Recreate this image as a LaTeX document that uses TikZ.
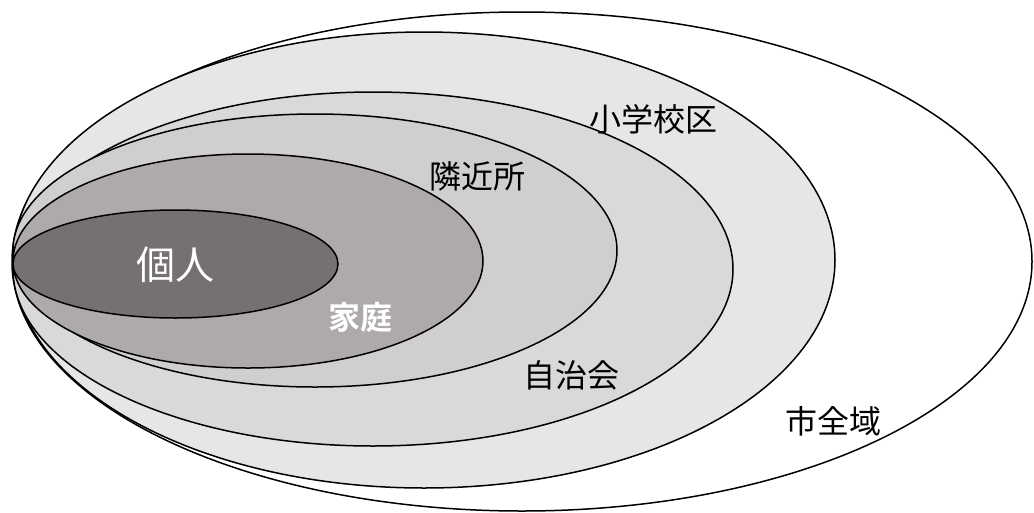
\documentclass[tikz,border=0pt]{standalone}
\usepackage{fontspec}
\newfontfamily\jpfont{Noto Sans CJK JP}
\newfontfamily\jpbold{Noto Sans CJK JP Bold}
\definecolor{ringB}{HTML}{E6E6E6}
\definecolor{ringC}{HTML}{D9D9D9}
\definecolor{ringD}{HTML}{D0CECE}
\definecolor{ringE}{HTML}{AEAAAA}
\definecolor{ringF}{HTML}{767171}
\tikzset{
  ring/.style={draw=black, line width=1.5pt},
  lab/.style={font=\jpfont\fontsize{32}{36}\selectfont, text=black, inner sep=0pt},
  wlab/.style={text=white, inner sep=0pt}
}
\begin{document}
\begin{tikzpicture}[x=1pt,y=-1pt]
\useasboundingbox (0,0) rectangle (1034,512);
\draw[ring, fill=white] (522,261.5) ellipse [x radius=510pt, y radius=249.5pt];
\draw[ring, fill=ringB] (424,260) ellipse [x radius=411pt, y radius=228pt];
\draw[ring, fill=ringC] (373,269) ellipse [x radius=360pt, y radius=177pt];
\draw[ring, fill=ringD] (315,250.5) ellipse [x radius=302pt, y radius=136.5pt];
\draw[ring, fill=ringE] (248,261) ellipse [x radius=235pt, y radius=107pt];
\draw[ring, fill=ringF] (175.5,264) ellipse [x radius=162.5pt, y radius=54pt];
\node[wlab, font=\jpfont\fontsize{39}{44}\selectfont] (kojin) at (175,265) {個人};
\node[wlab, font=\jpbold\fontsize{32}{36}\selectfont] (katei) at (360,317) {家庭};
\node[lab] (kinjo) at (477,176) {隣近所};
\node[lab] (shogaku) at (653,119) {小学校区};
\node[lab] (jichi) at (571,375) {自治会};
\node[lab] (shi) at (833,421) {市全域};
\end{tikzpicture}
\end{document}
